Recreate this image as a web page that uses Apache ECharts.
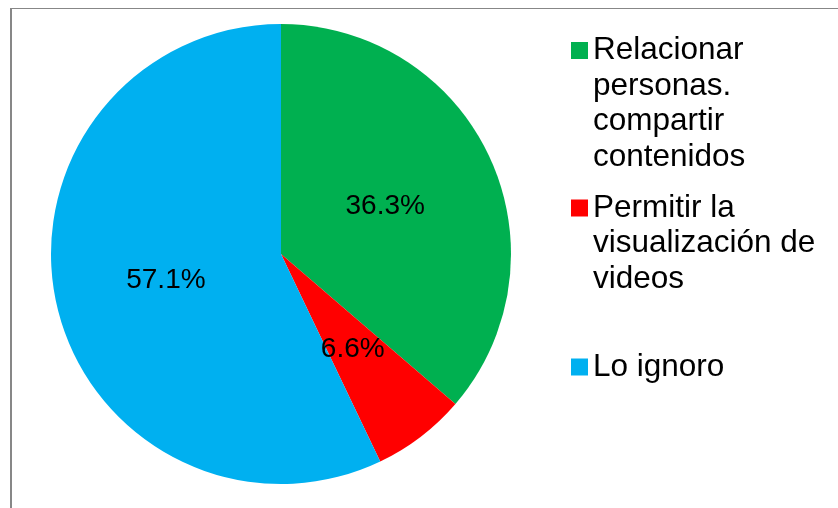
<!DOCTYPE html>
<html>
<head>
<meta charset="utf-8">
<script src="https://cdn.jsdelivr.net/npm/echarts@6/dist/echarts.min.js"></script>
<style>
html,body{margin:0;padding:0;background:#fff;}
#chart{width:838px;height:508px;}
</style>
</head>
<body>
<div id="chart"></div>
<script>
// Data
var categories = ['Relacionar personas. compartir contenidos', 'Permitir la visualización de videos', 'Lo ignoro'];
var legendLines = [
  ['Relacionar', 'personas.', 'compartir', 'contenidos'],
  ['Permitir la', 'visualización de', 'videos'],
  ['Lo ignoro']
];
var values = [36.3, 6.6, 57.1];
var colors = ['#00B050', '#FF0000', '#00B0F0'];
var labelOffsets = [[-3, 2], [0, 2], [0, 0]];
var legendIconCenters = [50.5, 208, 367];

var LH = 35.5;
var chart = echarts.init(document.getElementById('chart'), null, {renderer: 'canvas'});

function legendText(k) {
  var n = legendLines[k].length;
  var pre = [];
  for (var j = 0; j < n - 1; j++) pre.push(' ');
  return pre.concat(legendLines[k]).join('\n');
}

var legends = categories.map(function (c, i) {
  var n = legendLines[i].length;
  return {
    orient: 'vertical',
    left: 571,
    top: legendIconCenters[i] - (2 * n - 1) * LH / 2,
    padding: 0,
    itemWidth: 17,
    itemHeight: 17,
    icon: 'rect',
    selectedMode: false,
    data: [c],
    formatter: function (name) {
      return legendText(categories.indexOf(name));
    },
    textStyle: {
      fontFamily: 'Liberation Sans, Arial, sans-serif',
      fontSize: 31.5,
      lineHeight: LH,
      color: '#000'
    }
  };
});

var option = {
  animation: false,
  backgroundColor: '#ffffff',
  color: colors,
  legend: legends,
  graphic: [
    { type: 'line', shape: { x1: 11, y1: 8, x2: 11, y2: 508 }, style: { stroke: '#878787', lineWidth: 2 } },
    { type: 'line', shape: { x1: 10, y1: 8.5, x2: 838, y2: 8.5 }, style: { stroke: '#878787', lineWidth: 1 } }
  ],
  series: [{
    type: 'pie',
    center: [281, 254],
    radius: [0, 230],
    startAngle: 90,
    clockwise: true,
    avoidLabelOverlap: false,
    emphasis: { disabled: true },
    itemStyle: { borderWidth: 0 },
    label: {
      show: true,
      position: 'inside',
      fontFamily: 'Liberation Sans, Arial, sans-serif',
      fontSize: 28,
      color: '#000',
      formatter: function (p) { return values[p.dataIndex].toFixed(1) + '%'; }
    },
    labelLine: { show: false },
    data: categories.map(function (c, i) {
      return { name: c, value: values[i], itemStyle: { color: colors[i] }, label: { offset: labelOffsets[i] } };
    })
  }]
};
chart.setOption(option);
</script>
</body>
</html>
